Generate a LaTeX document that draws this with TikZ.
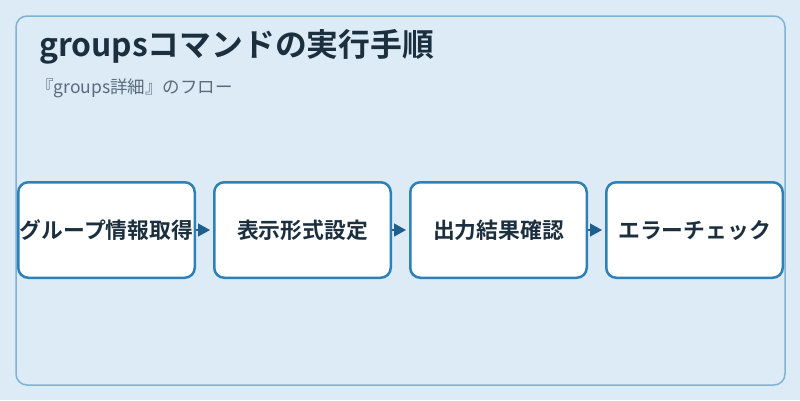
\documentclass[tikz,border=0pt]{standalone}
\usepackage{fontspec}
\setmainfont{Noto Sans CJK JP}
\newfontfamily\jpbold{Noto Sans CJK JP Bold}
\usetikzlibrary{arrows.meta}
\definecolor{bgc}{HTML}{DCEBF6}
\definecolor{framec}{HTML}{7FB3D5}
\definecolor{boxc}{HTML}{2E80B8}
\definecolor{arrc}{HTML}{1F5F8B}
\definecolor{titlec}{HTML}{1B2F3F}
\definecolor{subc}{HTML}{5B6B7B}
\tikzset{
  stepbox/.style={draw=boxc, line width=2.5pt, fill=white, rounded corners=10pt,
    minimum width=176.5pt, minimum height=95.5pt, inner sep=0pt,
    font=\jpbold\fontsize{21.8}{26}\selectfont, text=titlec},
  flow/.style={draw=arrc, line width=1.5pt, -{Triangle[length=12pt,width=13pt]}, shorten >=3pt, fill=arrc}
}
\begin{document}
\begin{tikzpicture}[x=1pt,y=-1pt]
\fill[bgc] (0,0) rectangle (800,400);
\useasboundingbox (0,0) rectangle (800,400);
\draw[framec, line width=1.5pt, rounded corners=11pt] (16,16) rectangle (785,385);
\node[anchor=west, text=titlec, font=\jpbold\fontsize{31.8}{36}\selectfont, inner sep=0pt] (title) at (39,47) {groupsコマンドの実行手順};
\node[anchor=west, text=subc, font=\fontsize{17.5}{21}\selectfont, inner sep=0pt] (sub) at (36,88) {『groups詳細』のフロー};
\node[stepbox] (s1) at (106.5,230) {グループ情報取得};
\node[stepbox] (s2) at (302.5,230) {表示形式設定};
\node[stepbox] (s3) at (498.5,230) {出力結果確認};
\node[stepbox] (s4) at (694.5,230) {エラーチェック};
\draw[flow] (s1.east) -- (s2.west);
\draw[flow] (s2.east) -- (s3.west);
\draw[flow] (s3.east) -- (s4.west);
\end{tikzpicture}
\end{document}
